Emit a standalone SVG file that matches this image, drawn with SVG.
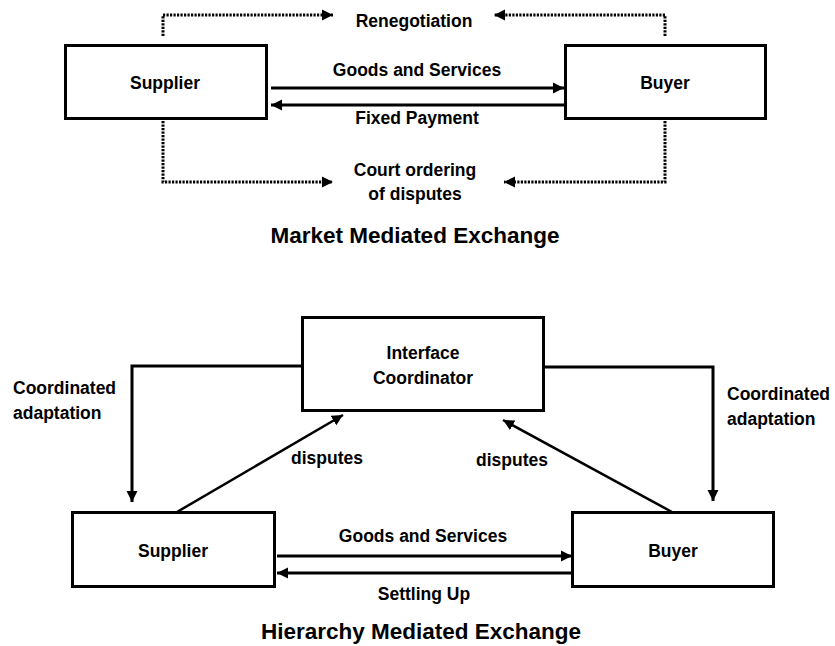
<svg xmlns="http://www.w3.org/2000/svg" width="835" height="646" viewBox="0 0 835 646">
<style>
.box{fill:#fff;stroke:#000;stroke-width:3}
.t{font-family:"Liberation Sans",Arial,sans-serif;font-weight:bold;font-size:17.5px;fill:#000}
.mid{text-anchor:middle}
.title{font-size:22.5px}
.ln{fill:none;stroke:#000;stroke-width:3}
.dot{fill:none;stroke:#000;stroke-width:3;stroke-dasharray:2.2 1.3}
</style>
<defs>
<marker id="ah" markerUnits="userSpaceOnUse" markerWidth="12" markerHeight="12" refX="11" refY="6" orient="auto" viewBox="0 0 12 12">
<path d="M0,0.5 L11,6 L0,11.5 z" fill="#000"/>
</marker>
</defs>
<rect width="835" height="646" fill="#fff"/>
<g id="connectors">
<path class="dot" d="M163,36 V15 H333" marker-end="url(#ah)"/>
<path class="dot" d="M665,36 V15 H494" marker-end="url(#ah)"/>
<path class="dot" d="M163,121 V182 H333" marker-end="url(#ah)"/>
<path class="dot" d="M665,121 V182 H504" marker-end="url(#ah)"/>
<path class="ln" d="M271,88 H564" marker-end="url(#ah)"/>
<path class="ln" d="M564,105 H271" marker-end="url(#ah)"/>
<path class="ln" d="M302,366 H132 V502" marker-end="url(#ah)"/>
<path class="ln" d="M544,367 H713 V501" marker-end="url(#ah)"/>
<path class="ln" d="M177,512 L343,415" marker-end="url(#ah)" style="stroke-width:2.5"/>
<path class="ln" d="M672,512 L503,420" marker-end="url(#ah)" style="stroke-width:2.5"/>
<path class="ln" d="M277,556 H572" marker-end="url(#ah)"/>
<path class="ln" d="M572,573 H277" marker-end="url(#ah)"/>
</g>
<g id="labels">
<text class="t mid" x="414" y="27">Renegotiation</text>
<text class="t mid" x="417" y="76">Goods and Services</text>
<text class="t mid" x="417" y="124">Fixed Payment</text>
<text class="t mid" x="415" y="176">Court ordering</text>
<text class="t mid" x="415" y="200">of disputes</text>
<text class="t mid title" x="415" y="243">Market Mediated Exchange</text>
<text class="t" x="13" y="394">Coordinated</text>
<text class="t" x="13" y="419">adaptation</text>
<text class="t" x="727" y="400">Coordinated</text>
<text class="t" x="727" y="425">adaptation</text>
<text class="t mid" x="327" y="464">disputes</text>
<text class="t mid" x="512" y="466">disputes</text>
<text class="t mid" x="423" y="542">Goods and Services</text>
<text class="t mid" x="424" y="600">Settling Up</text>
<text class="t mid title" x="421" y="639">Hierarchy Mediated Exchange</text>
</g>
<g id="supplier-market">
<rect class="box" x="65.5" y="45.5" width="201" height="73"/>
<text class="t mid" x="165" y="89">Supplier</text>
</g>
<g id="buyer-market">
<rect class="box" x="565.5" y="45.5" width="200" height="73"/>
<text class="t mid" x="665" y="89">Buyer</text>
</g>
<g id="interface-coordinator">
<rect class="box" x="302.5" y="317.5" width="241" height="93"/>
<text class="t mid" x="423" y="359">Interface</text>
<text class="t mid" x="423" y="384">Coordinator</text>
</g>
<g id="supplier-hierarchy">
<rect class="box" x="72.5" y="512.5" width="202" height="74"/>
<text class="t mid" x="173" y="557">Supplier</text>
</g>
<g id="buyer-hierarchy">
<rect class="box" x="572.5" y="512.5" width="201" height="74"/>
<text class="t mid" x="673" y="557">Buyer</text>
</g>
</svg>
